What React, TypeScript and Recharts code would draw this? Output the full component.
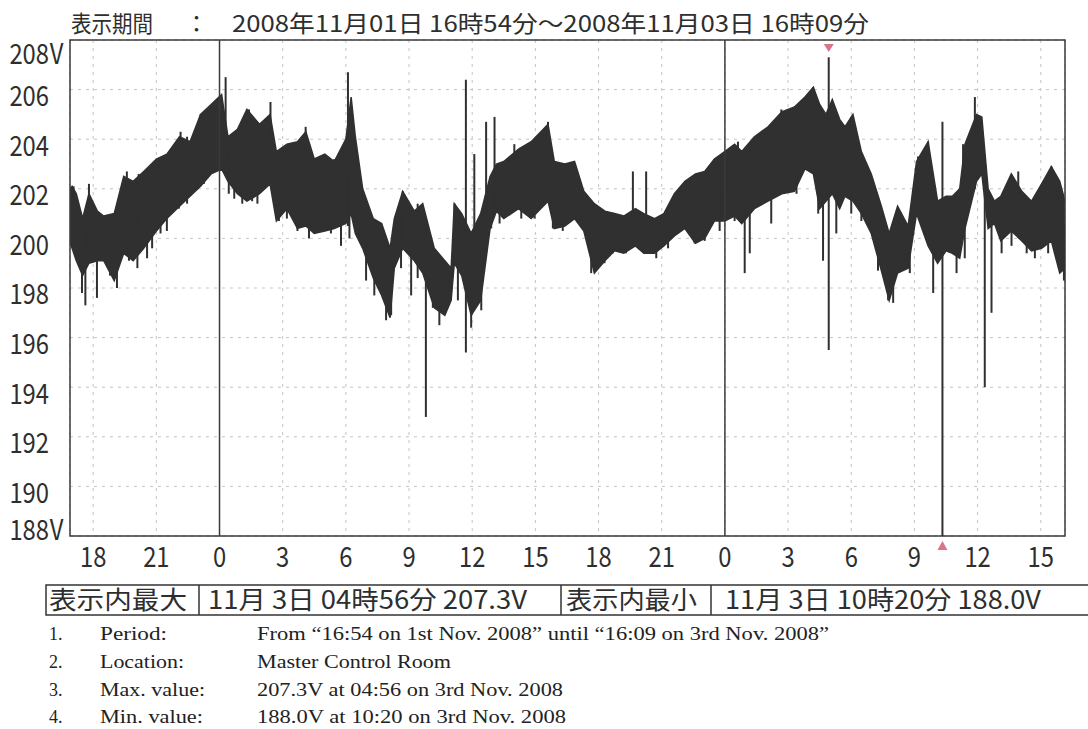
import React from "react";
import {
  ComposedChart,
  Area,
  Scatter,
  ErrorBar,
  XAxis,
  YAxis,
  CartesianGrid,
  ReferenceLine,
  ReferenceArea,
  ReferenceDot,
} from "recharts";

// ---------------------------------------------------------------------------
// Data (time = hours since 2008-11-01 00:00, voltage in V)
// ---------------------------------------------------------------------------

// envelope of the dense trace
const BAND_T = [
  16.9, 17.0, 17.2, 17.5, 17.8, 18.2, 18.5, 19.0, 19.45, 19.9, 20.4, 21.0, 21.5,
  22.1, 22.6, 23.1, 23.6, 24.1, 24.4, 24.85, 25.3, 25.9, 26.4, 26.7, 27.2, 27.7,
  28.1, 28.5, 29.0, 29.45, 30.0, 30.25, 30.45, 30.8, 31.3, 31.7, 32.1, 32.3, 32.7,
  33.25, 33.65, 34.2, 34.7, 35.0, 35.15, 35.5, 35.95, 36.4, 36.85, 37.15, 37.5,
  38.2, 38.8, 39.6, 39.9, 40.4, 40.86, 41.3, 41.8, 42.3, 42.76, 43.2, 43.75,
  44.15, 44.66, 45.1, 45.6, 46.1, 46.6, 47.04, 47.5, 47.99, 48.46, 48.8, 49.4,
  50.05, 50.7, 51.3, 51.8, 52.2, 52.5, 52.8, 53.1, 53.45, 53.7, 54.08, 54.48,
  54.95, 55.43, 55.8, 56.2, 56.7, 57.1, 57.65, 58.1, 58.5, 58.8, 59.15, 59.4,
  59.95, 60.2, 60.5, 60.8, 61.1, 61.6, 62.1, 62.56, 63.04, 63.5, 63.9, 64.15,
];
const BAND_LO = [
  199.8, 199.6, 199.1, 198.5, 199.0, 199.1, 199.1, 198.3, 199.4, 199.1, 199.6,
  200.3, 200.8, 201.3, 201.7, 202.1, 202.6, 202.8, 202.3, 201.8, 201.5, 201.8,
  202.2, 200.7, 201.2, 200.4, 200.5, 200.2, 200.3, 200.4, 200.6, 201.0, 200.2,
  199.6, 198.4, 197.7, 196.8, 198.8, 199.6, 199.1, 198.6, 197.2, 196.9, 197.5,
  199.0, 198.5, 196.9, 197.5, 200.4, 201.1, 200.8, 201.2, 200.8, 201.5, 200.4,
  200.5, 200.8, 200.3, 198.6, 199.1, 199.5, 199.4, 199.7, 199.4, 199.4, 199.7,
  200.1, 200.4, 199.8, 200.0, 200.7, 200.7, 200.9, 200.6, 201.2, 201.5, 201.8,
  201.9, 202.8, 202.6, 201.2, 201.5, 201.8, 201.2, 201.7, 201.5, 201.0, 200.2,
  198.7, 197.5, 198.6, 198.8, 201.0, 199.7, 199.0, 199.5, 199.4, 199.2, 200.4,
  202.3, 202.6, 200.4, 200.6, 199.9, 200.3, 199.9, 199.5, 199.6, 199.9, 198.6,
  198.8,
];
const BAND_HI = [
  202.0, 202.1, 201.8, 200.8, 201.8, 201.1, 200.9, 201.0, 202.5, 202.3, 202.7,
  203.2, 203.4, 204.1, 203.9, 205.0, 205.4, 205.8, 204.1, 204.4, 205.2, 204.6,
  205.0, 203.5, 203.8, 203.9, 204.3, 203.2, 203.4, 203.1, 204.0, 205.7, 204.1,
  202.0, 200.8, 200.6, 199.6, 200.8, 201.9, 201.1, 201.4, 199.6, 199.1, 198.8,
  201.4, 201.0, 200.2, 201.0, 202.5, 203.0, 203.1, 203.6, 203.9, 204.6, 203.1,
  203.0, 203.1, 201.9, 201.4, 201.1, 201.0, 200.9, 201.2, 201.0, 200.8, 201.0,
  201.8, 202.3, 202.6, 202.7, 203.2, 203.5, 203.8, 203.5, 204.1, 204.5, 205.1,
  205.3, 205.7, 206.1, 205.4, 205.0, 205.6, 204.8, 204.5, 205.0, 203.5, 202.6,
  201.3, 200.2, 201.3, 200.5, 203.1, 203.9, 201.5, 201.7, 201.7, 202.0, 203.8,
  205.0, 204.9, 202.0, 201.5, 201.7, 202.6, 201.9, 201.5, 202.2, 202.9, 202.3,
  201.5,
];

// single streaks that stick out of the envelope
const SPIKE_T = [
  17.07, 17.47, 17.63, 17.8, 18.18, 18.8, 19.13, 19.6, 19.7, 20.1, 20.16, 20.56,
  20.8, 21.1, 21.2, 21.5, 22.07, 22.15, 22.46, 22.86, 23.1, 23.26, 23.57, 23.73,
  24.29, 24.44, 24.7, 25.08, 25.4, 25.55, 25.8, 26.42, 26.82, 27.2, 27.7, 28.09,
  28.25, 28.56, 28.9, 28.98, 29.29, 29.45, 29.77, 30.1, 30.17, 30.56, 30.96,
  31.35, 31.91, 32.15, 32.62, 32.7, 33.1, 33.41, 33.8, 34.13, 34.44, 34.84, 35.16,
  35.32, 35.7, 35.95, 36.1, 36.43, 36.66, 36.9, 37.06, 37.3, 38.0, 38.33, 38.96,
  39.6, 39.83, 40.3, 41.65, 41.89, 42.28, 42.68, 43.3, 43.63, 43.95, 44.26, 44.74,
  45.3, 46.56, 47.04, 47.51, 47.75, 48.46, 48.62, 48.94, 49.18, 50.05, 50.2, 50.68,
  51.4, 52.19, 52.43, 52.66, 52.93, 53.29, 54.0, 54.48, 55.27, 55.75, 55.99, 56.78,
  57.17, 57.65, 57.89, 58.33, 59.0, 59.31, 59.39, 59.87, 60.34, 60.66, 61.14,
  61.61, 61.93, 62.33, 62.72, 63.35, 63.5, 64.1,
];
const SPIKE_LO = [
  200.5, 197.8, 197.3, 199.5, 197.6, 198.5, 198.0, 200.0, 199.1, 198.8, 200.5,
  199.2, 199.6, 201.0, 200.2, 200.3, 201.2, 202.0, 201.4, 202.0, 203.0, 202.2,
  203.5, 202.7, 203.0, 201.8, 201.6, 201.4, 203.0, 201.5, 201.4, 202.5, 200.7,
  200.8, 200.3, 202.0, 200.0, 200.3, 200.4, 201.5, 200.2, 201.5, 199.7, 200.5,
  200.0, 201.0, 198.3, 197.7, 196.7, 196.9, 198.8, 200.0, 197.7, 198.4, 192.8,
  197.2, 196.5, 197.2, 199.5, 197.5, 195.4, 196.4, 200.0, 197.1, 199.5, 200.4,
  201.0, 200.6, 202.0, 200.8, 200.8, 202.5, 200.4, 200.3, 198.6, 198.8, 199.0,
  199.4, 199.4, 200.0, 199.9, 200.0, 199.2, 199.6, 199.8, 199.9, 201.5, 200.3,
  200.7, 202.0, 198.6, 199.4, 202.5, 200.6, 203.0, 201.8, 204.0, 201.0, 199.1,
  195.5, 200.2, 201.0, 200.7, 198.7, 197.5, 197.4, 198.6, 201.5, 201.5, 197.8,
  188.0, 198.6, 201.0, 199.2, 202.0, 194.0, 197.0, 199.4, 199.7, 200.5, 199.4,
  199.2, 199.4, 200.5, 198.3,
];
const SPIKE_HI = [
  202.1, 200.5, 200.5, 202.2, 200.5, 200.5, 200.5, 202.7, 201.0, 201.0, 202.6,
  201.5, 202.0, 203.2, 202.0, 202.5, 203.0, 204.3, 204.1, 204.0, 205.0, 204.0,
  205.3, 204.5, 206.5, 203.5, 203.5, 203.5, 205.2, 203.5, 203.5, 205.5, 202.5,
  202.5, 202.5, 204.5, 202.0, 202.0, 202.0, 203.3, 202.0, 203.2, 202.0, 206.7,
  202.5, 203.0, 201.0, 200.0, 199.0, 199.0, 201.0, 201.9, 200.0, 201.4, 200.6,
  199.0, 198.5, 198.5, 201.4, 199.5, 206.4, 199.0, 203.4, 200.0, 204.7, 202.0,
  204.9, 202.0, 203.8, 202.5, 202.5, 204.7, 202.0, 202.0, 200.5, 200.5, 200.5,
  200.5, 200.5, 202.7, 200.8, 202.7, 200.5, 200.8, 201.5, 201.5, 203.2, 202.0,
  202.5, 203.9, 202.0, 202.0, 204.5, 202.5, 205.2, 203.5, 206.1, 203.5, 202.5,
  207.3, 202.5, 204.9, 202.5, 200.5, 199.5, 199.5, 200.0, 203.3, 203.9, 200.5,
  204.7, 200.5, 203.8, 201.0, 205.7, 202.5, 200.5, 201.0, 201.0, 202.7, 201.0,
  201.0, 201.0, 202.9, 200.5,
];

const X_TICKS = [18, 21, 24, 27, 30, 33, 36, 39, 42, 45, 48, 51, 54, 57, 60, 63];
const Y_TICKS = [188, 190, 192, 194, 196, 198, 200, 202, 204, 206, 208];
const DAY_LINES = [24, 48];
const MAX_POINT = { t: 52.93, v: 207.3 };
const MIN_POINT = { t: 58.33, v: 188.0 };

const TITLE_LEAD = "表示期間";
const TITLE_RANGE = "2008年11月01日 16時54分～2008年11月03日 16時09分";
const TABLE_CELLS = [
  "表示内最大",
  "11月 3日 04時56分 207.3V",
  "表示内最小",
  "11月 3日 10時20分 188.0V",
];
const NOTE_NUMS = ["1.", "2.", "3.", "4."];
const NOTE_LABELS = ["Period:", "Location:", "Max. value:", "Min. value:"];
const NOTE_VALUES = [
  "From \u201C16:54 on 1st Nov. 2008\u201D until \u201C16:09 on 3rd Nov. 2008\u201D",
  "Master Control Room",
  "207.3V at 04:56 on 3rd Nov. 2008",
  "188.0V at 10:20 on 3rd Nov. 2008",
];

// ---------------------------------------------------------------------------
// Styles
// ---------------------------------------------------------------------------

const INK = "#2e2e2e";
const TRACE = "#303030";
const GRID = "#c4c4c4";
const MARK = "#d9758a";
const JP_FONT = "'Noto Sans CJK JP', 'Noto Sans', sans-serif";
const SERIF = "'Liberation Serif', 'DejaVu Serif', serif";

const bandRows = BAND_T.map((t, i) => ({ t, band: [BAND_LO[i], BAND_HI[i]] }));
const spikeRows = SPIKE_T.map((t, i) => {
  const mid = (SPIKE_LO[i] + SPIKE_HI[i]) / 2;
  return { t, mid, err: [mid - SPIKE_LO[i], SPIKE_HI[i] - mid] };
});

function YTick(props: any) {
  const { y, payload } = props;
  const v = payload.value;
  const dy = v === 208 ? 12 : v === 188 ? -8 : 4;
  return (
    <g transform={`translate(49, ${y + dy}) scale(0.85, 1)`}>
      <text x={0} y={0} textAnchor="end" dominantBaseline="central" fontFamily={JP_FONT} fontSize={28} fill={INK}>
        {v}
      </text>
      {(v === 208 || v === 188) && (
        <text x={1} y={0} textAnchor="start" dominantBaseline="central" fontFamily={JP_FONT} fontSize={28} fill={INK}>
          V
        </text>
      )}
    </g>
  );
}

function XTick(props: any) {
  const { x, payload } = props;
  return (
    <g transform={`translate(${x}, 555) scale(0.85, 1)`}>
      <text x={0} y={0} textAnchor="middle" dominantBaseline="central" fontFamily={JP_FONT} fontSize={28} fill={INK}>
        {payload.value % 24}
      </text>
    </g>
  );
}

function MaxMarker(props: any) {
  const { cx } = props;
  const top = 44;
  return <path d={`M${cx - 5},${top} L${cx + 5},${top} L${cx},${top + 8} Z`} fill={MARK} />;
}

function MinMarker(props: any) {
  const { cx, cy } = props;
  const base = cy + 14;
  return <path d={`M${cx - 5},${base} L${cx + 5},${base} L${cx},${base - 9} Z`} fill={MARK} />;
}

const NoDot = () => <g />;

// ---------------------------------------------------------------------------
// Page
// ---------------------------------------------------------------------------

export default function App() {
  return (
    <div style={{ position: "absolute", left: 0, top: 0, width: 1088, height: 729, background: "#fff", overflow: "hidden" }}>
      <div style={{ position: "absolute", left: 0, top: 0 }}>
        <ComposedChart
          width={1088}
          height={729}
          data={bandRows}
          margin={{ top: 40, right: 23, left: 0, bottom: 163 }}
        >
          <CartesianGrid stroke={GRID} strokeDasharray="3 5" strokeWidth={1} />
          <XAxis
            dataKey="t"
            type="number"
            domain={[16.9, 64.15]}
            ticks={X_TICKS}
            allowDataOverflow
            tick={<XTick />}
            tickLine={false}
            axisLine={false}
            height={30}
          />
          <YAxis
            type="number"
            domain={[188, 208]}
            ticks={Y_TICKS}
            allowDataOverflow
            tick={<YTick />}
            tickLine={false}
            axisLine={false}
            width={70}
          />
          <Area
            dataKey="band"
            type="linear"
            fill={TRACE}
            fillOpacity={1}
            stroke={TRACE}
            strokeWidth={1.5}
            dot={false}
            activeDot={false}
            isAnimationActive={false}
          />
          <Scatter data={spikeRows} dataKey="mid" shape={<NoDot />} isAnimationActive={false}>
            <ErrorBar dataKey="err" direction="y" width={0} stroke={TRACE} strokeWidth={2} isAnimationActive={false} />
          </Scatter>
          {DAY_LINES.map((d) => (
            <ReferenceLine key={d} x={d} stroke="#3a3a3a" strokeWidth={1.5} />
          ))}
          <ReferenceArea
            x1={16.9}
            x2={64.15}
            y1={188}
            y2={208}
            fill="none"
            stroke="#3a3a3a"
            strokeWidth={1.5}
          />
          <ReferenceDot x={MAX_POINT.t} y={MAX_POINT.v} r={5} shape={<MaxMarker />} />
          <ReferenceDot x={MIN_POINT.t} y={MIN_POINT.v} r={5} shape={<MinMarker />} />
        </ComposedChart>
      </div>
      <svg width={1088} height={729} style={{ position: "absolute", left: 0, top: 0, pointerEvents: "none" }}>
        {/* title */}
        <text x={71} y={32} fontFamily={JP_FONT} fontSize={23} fill={INK} textLength={82} lengthAdjust="spacingAndGlyphs">
          {TITLE_LEAD}
        </text>
        <text x={185} y={32} fontFamily={JP_FONT} fontSize={23} fill={INK}>
          ：
        </text>
        <text x={232} y={32} fontFamily={JP_FONT} fontSize={23} fill={INK} textLength={637} lengthAdjust="spacingAndGlyphs">
          {TITLE_RANGE}
        </text>

        {/* max / min table */}
        <rect x={46} y={585} width={1060} height={30} fill="none" stroke="#333" strokeWidth={1.5} />
        {[199, 561, 711].map((sx) => (
          <line key={sx} x1={sx} x2={sx} y1={585} y2={615} stroke="#333" strokeWidth={1.5} />
        ))}
        {[
          { x: 49, w: 138 },
          { x: 208, w: 319 },
          { x: 566, w: 131 },
          { x: 725, w: 316 },
        ].map((c, i) => (
          <text key={i} x={c.x} y={609} fontFamily={JP_FONT} fontSize={25} fill={INK} textLength={c.w} lengthAdjust="spacingAndGlyphs">
            {TABLE_CELLS[i]}
          </text>
        ))}

        {/* notes */}
        {NOTE_NUMS.map((n, i) => {
          const y = [640, 668, 696, 723][i];
          const lw = [67, 84, 105, 103][i];
          const vw = [572, 194, 306, 309][i];
          return (
            <g key={n} fontFamily={SERIF} fontSize={18} fill="#222">
              <text x={49} y={y}>{n}</text>
              <text x={100} y={y} textLength={lw} lengthAdjust="spacingAndGlyphs">{NOTE_LABELS[i]}</text>
              <text x={257} y={y} textLength={vw} lengthAdjust="spacingAndGlyphs">{NOTE_VALUES[i]}</text>
            </g>
          );
        })}
      </svg>
    </div>
  );
}
